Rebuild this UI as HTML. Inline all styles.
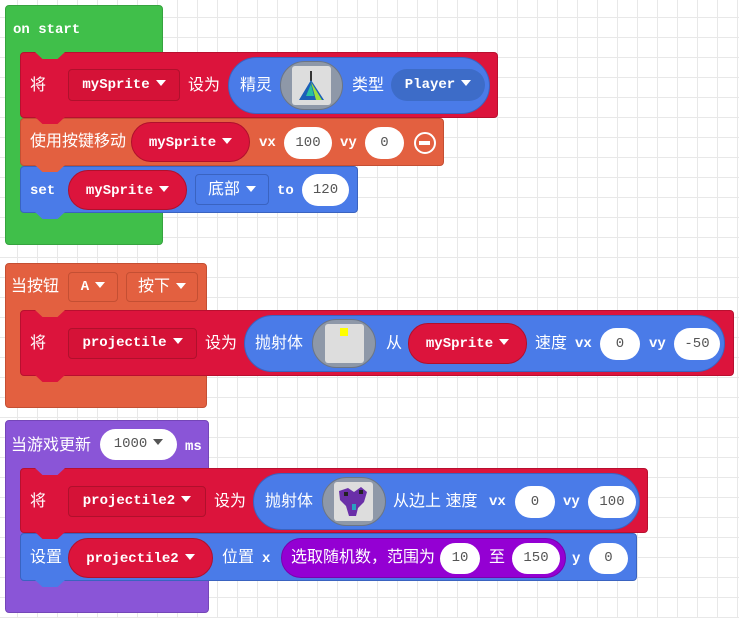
<!DOCTYPE html>
<html><head><meta charset="utf-8"><style>
body{margin:0;width:739px;height:618px;overflow:hidden;background:#fff;
background-image:linear-gradient(#e8e8e8 1px,transparent 1px),linear-gradient(90deg,#e8e8e8 1px,transparent 1px);background-size:20px 20px;background-position:-3px -3px;position:relative;}
div{position:absolute;box-sizing:border-box}
.t{color:#fff;font-family:"Liberation Mono",monospace;font-weight:bold;font-size:14px;white-space:nowrap;line-height:20px}
.c{color:#fff;font-family:"Liberation Sans","Noto Sans CJK SC",sans-serif;font-size:16px;white-space:nowrap;line-height:20px}
.p{border-radius:20px;text-align:center;font-family:"Liberation Mono",monospace;font-weight:bold;font-size:14px;color:#fff;white-space:nowrap}
.w{background:#fff;color:#555;font-weight:normal;border-radius:16px}
.blk{border-radius:4px}
.arr::after{content:"";display:inline-block;margin-left:6px;border-left:5px solid transparent;border-right:5px solid transparent;border-top:6px solid #fff;vertical-align:2px}
.w.arr::after{border-top-color:#555}
.notch{width:30px;height:7px;clip-path:polygon(0 0,100% 0,75% 100%,25% 100%)}
</style></head><body>

<!-- on start -->
<div class="blk" style="left:5px;top:5px;width:158px;height:240px;background:#40bf4a;border:1px solid #36a33f"></div>
<div class="t" style="left:13px;top:20px">on start</div>

<div class="blk" style="left:20px;top:52px;width:478px;height:66px;background:#dc143c;border:1px solid #b8102f"></div>
<div class="notch" style="left:35px;top:52px;background:#40bf4a"></div>
<div class="c" style="left:30px;top:76px">将</div>
<div class="p arr" style="left:68px;top:69px;width:112px;height:32px;line-height:30px;background:#d51237;border:1px solid #b0102c;border-radius:4px">mySprite</div>
<div class="c" style="left:188px;top:76px">设为</div>
<div style="left:228px;top:57px;width:262px;height:57px;background:#4a7be8;border:1px solid #3a63c0;border-radius:29px"></div>
<div class="c" style="left:240px;top:76px">精灵</div>
<div style="left:280px;top:61px;width:63px;height:49px;border-radius:25px;background:#8e98a8;border:1px solid #6b7585"></div>
<div style="left:292px;top:66px;width:39px;height:39px;background:#ddd;border-radius:3px"><svg width="39" height="39"><rect x="18" y="5" width="2" height="10" fill="#333"/><polygon points="19,14 7,34 32,34" fill="#1b5fb8"/><polygon points="19,16 24,34 30,34" fill="#9ee03c"/><polygon points="19,18 14,30 22,30" fill="#28c0a0"/></svg></div>
<div class="c" style="left:352px;top:76px">类型</div>
<div class="p arr" style="left:391px;top:69px;width:94px;height:32px;line-height:32px;background:#3d6cc8;border-radius:16px">Player</div>

<div class="blk" style="left:20px;top:118px;width:424px;height:48px;background:#e36040;border:1px solid #c44f33"></div>
<div class="notch" style="left:35px;top:117px;background:#dc143c"></div>
<div class="c" style="left:30px;top:132px">使用按键移动</div>
<div class="p arr" style="left:131px;top:122px;width:119px;height:40px;line-height:40px;background:#dc143c;border:1px solid #b0102c">mySprite</div>
<div class="t" style="left:259px;top:133px">vx</div>
<div class="p w" style="left:284px;top:127px;width:48px;height:32px;line-height:32px">100</div>
<div class="t" style="left:340px;top:133px">vy</div>
<div class="p w" style="left:365px;top:127px;width:39px;height:32px;line-height:32px">0</div>
<div style="left:414px;top:132px;width:22px;height:22px;border-radius:50%;border:2.5px solid #fff"><div style="left:3px;top:7px;width:11px;height:4px;background:#fff"></div></div>

<div class="blk" style="left:20px;top:166px;width:338px;height:47px;background:#4a7be8;border:1px solid #3a63c0"></div>
<div class="notch" style="left:35px;top:165px;background:#e36040"></div>
<div class="notch" style="left:35px;top:212px;background:#4a7be8"></div>
<div class="t" style="left:30px;top:181px">set</div>
<div class="p arr" style="left:68px;top:170px;width:119px;height:40px;line-height:40px;background:#dc143c;border:1px solid #b0102c">mySprite</div>
<div class="c arr" style="left:195px;top:174px;width:74px;height:31px;line-height:29px;text-align:center;background:#4a7be8;border:1px solid #3a63c0;border-radius:4px">底部</div>
<div class="t" style="left:277px;top:181px">to</div>
<div class="p w" style="left:302px;top:174px;width:47px;height:32px;line-height:32px">120</div>

<!-- button A -->
<div class="blk" style="left:5px;top:263px;width:202px;height:145px;background:#e36040;border:1px solid #c44f33"></div>
<div class="c" style="left:11px;top:277px">当按钮</div>
<div class="p arr" style="left:68px;top:272px;width:50px;height:30px;line-height:28px;background:#e36040;border:1px solid #c44f33;border-radius:4px">A</div>
<div class="c arr" style="left:126px;top:272px;width:72px;height:30px;line-height:28px;text-align:center;background:#e36040;border:1px solid #c44f33;border-radius:4px">按下</div>

<div class="blk" style="left:20px;top:310px;width:714px;height:66px;background:#dc143c;border:1px solid #b8102f"></div>
<div class="notch" style="left:35px;top:310px;background:#e36040"></div>
<div class="notch" style="left:35px;top:375px;background:#dc143c"></div>
<div class="c" style="left:30px;top:334px">将</div>
<div class="p arr" style="left:68px;top:328px;width:129px;height:31px;line-height:29px;background:#d51237;border:1px solid #b0102c;border-radius:4px">projectile</div>
<div class="c" style="left:205px;top:334px">设为</div>
<div style="left:244px;top:315px;width:481px;height:57px;background:#4a7be8;border:1px solid #3a63c0;border-radius:29px"></div>
<div class="c" style="left:255px;top:334px">抛射体</div>
<div style="left:312px;top:319px;width:64px;height:49px;border-radius:25px;background:#8e98a8;border:1px solid #6b7585"></div>
<div style="left:325px;top:324px;width:39px;height:39px;background:#ddd;border-radius:3px"><div style="left:15px;top:4px;width:8px;height:8px;background:#ff0"></div></div>
<div class="c" style="left:386px;top:334px">从</div>
<div class="p arr" style="left:408px;top:323px;width:119px;height:41px;line-height:41px;background:#dc143c;border:1px solid #b0102c">mySprite</div>
<div class="c" style="left:535px;top:334px">速度</div>
<div class="t" style="left:575px;top:334px">vx</div>
<div class="p w" style="left:600px;top:328px;width:40px;height:32px;line-height:32px">0</div>
<div class="t" style="left:649px;top:334px">vy</div>
<div class="p w" style="left:674px;top:328px;width:46px;height:32px;line-height:32px">-50</div>

<!-- game update -->
<div class="blk" style="left:5px;top:420px;width:204px;height:193px;background:#8a55d7;border:1px solid #7446b8"></div>
<div class="c" style="left:11px;top:436px">当游戏更新</div>
<div class="p w arr" style="left:100px;top:429px;width:77px;height:31px;line-height:31px">1000</div>
<div class="t" style="left:185px;top:437px">ms</div>

<div class="blk" style="left:20px;top:468px;width:628px;height:65px;background:#dc143c;border:1px solid #b8102f"></div>
<div class="notch" style="left:35px;top:468px;background:#8a55d7"></div>
<div class="c" style="left:30px;top:492px">将</div>
<div class="p arr" style="left:68px;top:486px;width:138px;height:31px;line-height:29px;background:#d51237;border:1px solid #b0102c;border-radius:4px">projectile2</div>
<div class="c" style="left:214px;top:492px">设为</div>
<div style="left:253px;top:473px;width:387px;height:57px;background:#4a7be8;border:1px solid #3a63c0;border-radius:29px"></div>
<div class="c" style="left:265px;top:492px">抛射体</div>
<div style="left:322px;top:477px;width:64px;height:49px;border-radius:25px;background:#8e98a8;border:1px solid #6b7585"></div>
<div style="left:334px;top:482px;width:39px;height:39px;background:#ddd;border-radius:3px"><svg width="39" height="39"><path d="M5 9 L14 6 L20 10 L27 5 L33 10 L30 20 L24 26 L22 34 L15 34 L12 24 L6 18Z" fill="#6a2fa8"/><rect x="10" y="10" width="4" height="4" fill="#222"/><rect x="25" y="8" width="4" height="4" fill="#222"/><rect x="18" y="22" width="4" height="6" fill="#2aa0c0"/></svg></div>
<div class="c" style="left:393px;top:492px">从边上 速度</div>
<div class="t" style="left:489px;top:492px">vx</div>
<div class="p w" style="left:515px;top:486px;width:40px;height:32px;line-height:32px">0</div>
<div class="t" style="left:563px;top:492px">vy</div>
<div class="p w" style="left:588px;top:486px;width:48px;height:32px;line-height:32px">100</div>

<div class="blk" style="left:20px;top:533px;width:617px;height:48px;background:#4a7be8;border:1px solid #3a63c0"></div>
<div class="notch" style="left:35px;top:532px;background:#dc143c"></div>
<div class="notch" style="left:35px;top:580px;background:#4a7be8"></div>
<div class="c" style="left:30px;top:548px">设置</div>
<div class="p arr" style="left:68px;top:538px;width:145px;height:40px;line-height:40px;background:#dc143c;border:1px solid #b0102c">projectile2</div>
<div class="c" style="left:222px;top:548px">位置</div>
<div class="t" style="left:262px;top:549px">x</div>
<div style="left:281px;top:538px;width:285px;height:40px;background:#9400d3;border:1px solid #7a00ad;border-radius:20px"></div>
<div class="c" style="left:291px;top:548px">选取随机数，范围为</div>
<div class="p w" style="left:440px;top:543px;width:40px;height:31px;line-height:31px">10</div>
<div class="c" style="left:489px;top:548px">至</div>
<div class="p w" style="left:512px;top:543px;width:48px;height:31px;line-height:31px">150</div>
<div class="t" style="left:572px;top:549px">y</div>
<div class="p w" style="left:589px;top:543px;width:39px;height:31px;line-height:31px">0</div>
</body></html>
